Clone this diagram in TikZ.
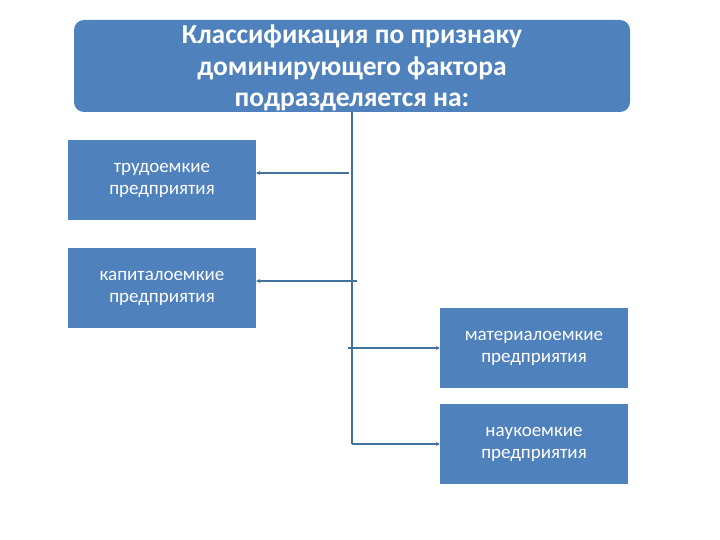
\documentclass[tikz,border=0pt]{standalone}
\usepackage{fontspec}
\setmainfont{Carlito}
\usetikzlibrary{arrows.meta}
\definecolor{boxblue}{HTML}{4F81BD}
\definecolor{linecol}{HTML}{41719C}
\tikzset{
  header/.style={draw=none, fill=boxblue, rounded corners=10pt, minimum width=556pt, minimum height=92pt, inner sep=0pt},
  headtext/.style={inner sep=0pt, text=white, font=\bfseries\fontsize{27.5}{31.5}\selectfont, align=center},
  kindbox/.style={draw=none, fill=boxblue, minimum width=188pt, minimum height=80pt, inner sep=0pt, text=white, font=\fontsize{19}{22}\selectfont, align=center},
  conn/.style={draw=linecol, line width=1.2pt},
  connarrow/.style={conn, -{Stealth[length=4pt,width=4pt]}}
}
\begin{document}
\begin{tikzpicture}[x=1pt,y=-1pt]
\useasboundingbox (0,0) rectangle (720,540);
\node[header] (top) at (352,66) {};
\node[headtext] (toptext) at (352,68) {Классификация по признаку\\доминирующего фактора\\подразделяется на:};
\node[kindbox] (b1) at (162,180) {трудоемкие\\предприятия};
\node[kindbox] (b2) at (162,288) {капиталоемкие\\предприятия};
\node[kindbox] (b3) at (534,348) {материалоемкие\\предприятия};
\node[kindbox] (b4) at (534,444) {наукоемкие\\предприятия};
\coordinate (t1) at (349,173);
\coordinate (t2) at (357,281);
\coordinate (t3) at (348,348);
\coordinate (vend) at (352,444);
\draw[conn] (top.south -| vend) -- (vend);
\draw[connarrow] (t1) -- (t1 -| b1.east);
\draw[connarrow] (t2) -- (t2 -| b2.east);
\draw[connarrow] (t3) -- (t3 -| b3.west);
\draw[connarrow] (vend) -- (b4.west);
\end{tikzpicture}
\end{document}
